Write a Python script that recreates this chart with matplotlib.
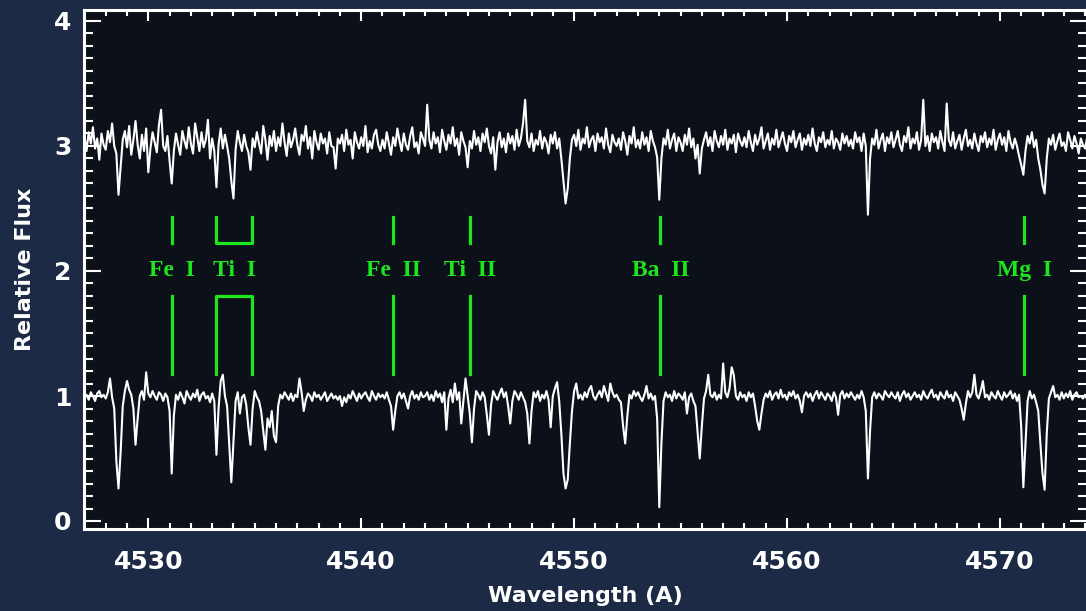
import matplotlib
matplotlib.use("Agg")
import matplotlib.pyplot as plt
import numpy as np
from matplotlib.ticker import MultipleLocator

# wavelength grid start / step (Angstrom), one row of 10 values per Angstrom
wave_start = 4527.0
wave_step = 0.1

# lower spectrum (relative flux x100), 4527.0 .. 4574.9
flux_low = [
    99, 101, 97, 103, 100, 96, 102, 104, 99, 101,      # 4527
    98, 103, 114, 99, 90, 48, 26, 55, 92, 104,         # 4528
    112, 105, 101, 90, 61, 82, 100, 104, 97, 119,      # 4529
    102, 99, 104, 100, 97, 103, 101, 96, 102, 99,      # 4530
    88, 38, 84, 101, 97, 103, 99, 94, 104, 100,        # 4531
    97, 102, 99, 105, 96, 101, 103, 98, 100, 95,       # 4532
    102, 96, 53, 90, 112, 117, 100, 92, 62, 31,        # 4533
    64, 96, 103, 86, 99, 101, 93, 75, 61, 90,          # 4534
    104, 99, 96, 88, 72, 57, 82, 75, 88, 68,           # 4535
    63, 92, 101, 98, 103, 100, 97, 102, 96, 101,       # 4536
    99, 114, 103, 88, 97, 102, 100, 96, 103, 99,       # 4537
    101, 97, 100, 103, 96, 99, 102, 98, 100, 97,       # 4538
    100, 92, 99, 95, 101, 98, 104, 100, 96, 102,       # 4539
    98, 101, 103, 99, 96, 104, 100, 97, 102, 99,       # 4540
    101, 98, 103, 97, 92, 73, 88, 100, 103, 98,        # 4541
    102, 96, 90, 100, 104, 98, 101, 97, 103, 99,       # 4542
    100, 103, 97, 101, 96, 104, 99, 102, 95, 103,      # 4543
    73, 98, 105, 95, 110, 97, 103, 78, 96, 114,        # 4544
    100, 86, 63, 90, 104, 101, 97, 103, 99, 85,        # 4545
    69, 93, 104, 100, 97, 102, 106, 99, 103, 92,       # 4546
    78, 96, 104, 101, 97, 103, 99, 95, 86, 62,         # 4547
    88, 103, 99, 104, 96, 101, 98, 104, 97, 75,        # 4548
    100, 106, 111, 96, 70, 38, 26, 33, 62, 88,         # 4549
    104, 110, 98, 101, 97, 103, 99, 105, 108, 100,     # 4550
    97, 101, 104, 99, 108, 102, 96, 110, 103, 99,      # 4551
    101, 97, 95, 76, 62, 84, 101, 98, 104, 100,        # 4552
    103, 99, 96, 101, 108, 98, 102, 97, 100, 82,       # 4553
    11, 62, 96, 103, 99, 101, 96, 104, 98, 102,        # 4554
    100, 97, 103, 86, 99, 102, 96, 92, 71, 50,         # 4555
    76, 98, 104, 117, 101, 99, 103, 97, 101, 98,       # 4556
    126, 103, 99, 106, 123, 117, 100, 97, 103, 99,     # 4557
    101, 96, 103, 99, 102, 92, 80, 73, 86, 97,         # 4558
    102, 99, 104, 97, 101, 103, 98, 105, 99, 101,      # 4559
    97, 103, 100, 104, 98, 101, 96, 87, 100, 103,      # 4560
    99, 102, 96, 101, 104, 98, 103, 100, 97, 102,      # 4561
    100, 96, 103, 99, 85, 101, 104, 98, 102, 99,       # 4562
    103, 100, 97, 101, 98, 104, 99, 88, 34, 72,        # 4563
    99, 103, 98, 102, 100, 97, 104, 101, 99, 103,      # 4564
    100, 98, 103, 96, 101, 104, 99, 102, 97, 100,      # 4565
    103, 99, 101, 97, 104, 100, 98, 102, 105, 99,      # 4566
    101, 97, 103, 100, 98, 104, 99, 101, 96, 103,      # 4567
    100, 97, 90, 81, 94, 104, 99, 103, 117, 101,       # 4568
    98, 104, 112, 99, 101, 97, 103, 100, 98, 104,      # 4569
    100, 97, 103, 99, 101, 104, 98, 102, 96, 101,      # 4570
    75, 27, 62, 96, 104, 98, 101, 95, 88, 62,          # 4571
    38, 25, 70, 98, 103, 108, 99, 101, 97, 103,        # 4572
    98, 102, 99, 104, 97, 101, 103, 99, 100, 98,       # 4573
    101, 97, 103, 99, 102, 100, 98, 101, 99, 102,      # 4574
]

# upper spectrum (relative flux x100, offset by +2)
flux_high = [
    308, 296, 311, 302, 315, 298, 306, 289, 310, 301,  # 4527
    297, 312, 303, 318, 300, 294, 261, 283, 305, 312,  # 4528
    299, 316, 293, 305, 320, 301, 290, 309, 296, 314,  # 4529
    279, 298, 311, 303, 295, 317, 329, 300, 296, 308,  # 4530
    288, 270, 296, 310, 301, 293, 312, 304, 298, 315,  # 4531
    302, 294, 318, 307, 296, 311, 299, 305, 321, 290,  # 4532
    306, 296, 267, 301, 314, 298, 309, 300, 290, 272,  # 4533
    258, 297, 312, 303, 296, 309, 300, 295, 281, 306,  # 4534
    299, 311, 302, 294, 316, 305, 289, 308, 300, 312,  # 4535
    296, 307, 300, 318, 303, 292, 310, 299, 305, 314,  # 4536
    301, 293, 309, 304, 316, 298, 307, 290, 312, 303,  # 4537
    297, 310, 302, 306, 294, 311, 300, 299, 282, 306,  # 4538
    302, 309, 296, 313, 301, 305, 290, 311, 303, 298,  # 4539
    307, 300, 316, 295, 304, 298, 309, 313, 301, 296,  # 4540
    305, 298, 311, 302, 293, 307, 300, 314, 304, 296,  # 4541
    310, 301, 297, 308, 315, 299, 303, 294, 311, 306,  # 4542
    300, 333, 305, 298, 311, 302, 307, 295, 313, 304,  # 4543
    297, 309, 302, 315, 300, 306, 293, 311, 304, 299,  # 4544
    283, 304, 298, 312, 301, 307, 296, 310, 303, 314,  # 4545
    300, 294, 307, 281, 303, 311, 299, 306, 295, 310,  # 4546
    302, 308, 297, 313, 300, 306, 318, 337, 304, 299,  # 4547
    310, 296, 305, 301, 312, 298, 307, 303, 294, 309,  # 4548
    302, 311, 298, 306, 290, 272, 254, 266, 290, 305,  # 4549
    309, 300, 313, 297, 306, 302, 315, 299, 305, 308,  # 4550
    296, 310, 303, 307, 298, 314, 301, 295, 309, 303,  # 4551
    300, 306, 297, 311, 304, 293, 308, 302, 315, 299,  # 4552
    305, 298, 311, 301, 307, 296, 312, 304, 299, 291,  # 4553
    257, 290, 306, 301, 313, 298, 305, 310, 296, 307,  # 4554
    303, 296, 309, 301, 314, 299, 306, 290, 301, 278,  # 4555
    298, 305, 311, 300, 307, 296, 312, 304, 299, 308,  # 4556
    301, 313, 297, 306, 302, 309, 295, 310, 304, 300,  # 4557
    307, 299, 312, 303, 296, 309, 301, 306, 315, 298,  # 4558
    304, 310, 297, 306, 301, 313, 299, 305, 311, 302,  # 4559
    296, 308, 303, 312, 299, 305, 310, 297, 306, 301,  # 4560
    309, 300, 314, 302, 296, 307, 303, 311, 299, 305,  # 4561
    301, 312, 298, 306, 303, 297, 310, 302, 308, 300,  # 4562
    305, 298, 311, 303, 307, 296, 310, 300, 245, 290,  # 4563
    306, 301, 313, 298, 305, 310, 296, 307, 302, 311,  # 4564
    299, 305, 312, 301, 296, 308, 303, 315, 298, 306,  # 4565
    302, 311, 297, 305, 337, 300, 308, 296, 310, 303,  # 4566
    307, 298, 312, 303, 296, 334, 305, 300, 311, 298,  # 4567
    304, 309, 297, 306, 313, 300, 305, 298, 310, 302,  # 4568
    296, 308, 303, 311, 299, 306, 301, 313, 297, 305,  # 4569
    310, 301, 307, 296, 312, 303, 298, 306, 300, 292,  # 4570
    285, 277, 296, 308, 302, 311, 299, 305, 290, 281,  # 4571
    269, 262, 290, 306, 301, 309, 297, 304, 310, 300,  # 4572
    303, 296, 311, 305, 298, 308, 302, 294, 306, 301,  # 4573
    298, 307, 302, 295, 309, 300, 304, 297, 303, 306,  # 4574
]

# line identifications
line_names = ['Fe  I', 'Ti  I', 'Fe  II', 'Ti  II', 'Ba  II', 'Mg  I']
line_waves = [[4531.1], [4533.2, 4534.85], [4541.5], [4545.1], [4554.05], [4571.15]]

bg = '#1c2a45'
plot_bg = '#0c1018'
green = '#1ee61e'

wave = wave_start + wave_step * np.arange(len(flux_low))
low = np.array(flux_low) / 100.0
high = np.array(flux_high) / 100.0

fig = plt.figure(figsize=(10.86, 6.11), dpi=100, facecolor=bg)
ax = fig.add_axes([84 / 1086, 82 / 611, 1003 / 1086, 519 / 611])
ax.set_facecolor(plot_bg)

ax.plot(wave, high, color='white', lw=1.5)
ax.plot(wave, low, color='white', lw=1.5)

# green markers: short tick above label, long tick below
up_lo, up_hi = 2.22, 2.43
dn_lo, dn_hi = 1.18, 1.80
for name, ws in zip(line_names, line_waves):
    if len(ws) == 1:
        w = ws[0]
        ax.plot([w, w], [up_lo, up_hi], color=green, lw=2.3)
        ax.plot([w, w], [dn_lo, dn_hi], color=green, lw=2.3)
        xc = w
    else:
        w1, w2 = ws
        ax.plot([w1, w1, w2, w2], [up_hi, up_lo, up_lo, up_hi], color=green, lw=2.3)
        ax.plot([w1, w1, w2, w2], [dn_lo, dn_hi, dn_hi, dn_lo], color=green, lw=2.3)
        xc = (w1 + w2) / 2
    ax.text(xc, 2.0, name, color=green, ha='center', va='center',
            fontsize=17, fontweight='bold', family='Liberation Serif')

ax.set_xlim(4526.98, 4574.09)
ax.set_ylim(-0.064, 4.088)

ax.xaxis.set_major_locator(MultipleLocator(10))
ax.xaxis.set_minor_locator(MultipleLocator(1))
ax.yaxis.set_major_locator(MultipleLocator(1))
ax.yaxis.set_minor_locator(MultipleLocator(0.1))

for s in ax.spines.values():
    s.set_color('white')
    s.set_linewidth(2.2)

ax.tick_params(axis='both', which='both', direction='in', color='white',
               top=True, right=True, width=1.5)
ax.tick_params(axis='x', which='major', length=8, pad=15)
ax.tick_params(axis='x', which='minor', length=4.5)
ax.tick_params(axis='y', which='major', length=12, pad=9)
ax.tick_params(axis='y', which='minor', length=6.5)

for lab in ax.get_xticklabels() + ax.get_yticklabels():
    lab.set_color('white')
    lab.set_fontsize(18)
    lab.set_fontweight('bold')

ax.set_xlabel('Wavelength (A)', color='white', fontsize=16, fontweight='bold', labelpad=9)
ax.set_ylabel('Relative Flux', color='white', fontsize=16, fontweight='bold', labelpad=14)

fig.savefig('out.png', dpi=100, facecolor=bg)
